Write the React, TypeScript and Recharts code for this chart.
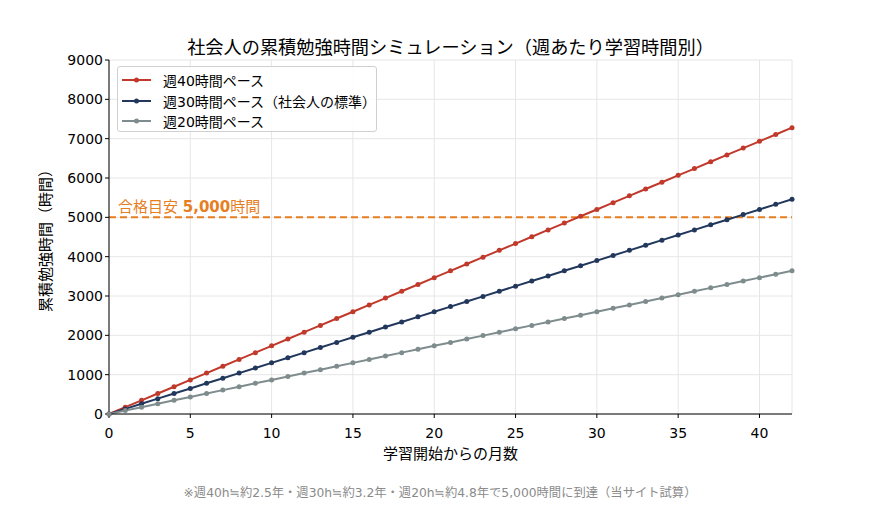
import {
  CartesianGrid,
  Line,
  LineChart,
  ReferenceLine,
  XAxis,
  YAxis,
} from "recharts";

// months since start
const months = Array.from({ length: 43 }, (_, i) => i);

// cumulative study hours per pace
const pace40 = [
  0, 173, 347, 520, 693, 867, 1040, 1213, 1387, 1560, 1733, 1907, 2080, 2253,
  2427, 2600, 2773, 2947, 3120, 3293, 3467, 3640, 3813, 3987, 4160, 4333, 4507,
  4680, 4853, 5027, 5200, 5373, 5547, 5720, 5893, 6067, 6240, 6413, 6587, 6760,
  6933, 7107, 7280,
];
const pace30 = [
  0, 130, 260, 390, 520, 650, 780, 910, 1040, 1170, 1300, 1430, 1560, 1690,
  1820, 1950, 2080, 2210, 2340, 2470, 2600, 2730, 2860, 2990, 3120, 3250, 3380,
  3510, 3640, 3770, 3900, 4030, 4160, 4290, 4420, 4550, 4680, 4810, 4940, 5070,
  5200, 5330, 5460,
];
const pace20 = [
  0, 87, 173, 260, 347, 433, 520, 607, 693, 780, 867, 953, 1040, 1127, 1213,
  1300, 1387, 1473, 1560, 1647, 1733, 1820, 1907, 1993, 2080, 2167, 2253, 2340,
  2427, 2513, 2600, 2687, 2773, 2860, 2947, 3033, 3120, 3207, 3293, 3380, 3467,
  3553, 3640,
];

const xTicks = [0, 5, 10, 15, 20, 25, 30, 35, 40];
const yTicks = [0, 1000, 2000, 3000, 4000, 5000, 6000, 7000, 8000, 9000];
const target = 5000;

const series = [
  { key: "p40", name: "週40時間ペース", color: "#c0392b" },
  { key: "p30", name: "週30時間ペース（社会人の標準）", color: "#22375c" },
  { key: "p20", name: "週20時間ペース", color: "#7f8c8d" },
];

const data = months.map((m, i) => ({
  month: m,
  p40: pace40[i],
  p30: pace30[i],
  p20: pace20[i],
}));

const FONT = '"DejaVu Sans", "Noto Sans CJK JP", sans-serif';
const ORANGE = "#e67e22";

const TargetLabel = ({ viewBox }: any) => (
  <text
    x={viewBox.x + 9}
    y={viewBox.y - 5}
    fill={ORANGE}
    fontSize={15}
    fontFamily={FONT}
  >
    合格目安 <tspan fontWeight="bold">5,000</tspan>時間
  </text>
);

export default function App() {
  return (
    <div
      style={{
        position: "absolute",
        left: 0,
        top: 0,
        width: 880,
        height: 505,
        background: "#fff",
        fontFamily: FONT,
      }}
    >
      <div
        style={{
          position: "absolute",
          top: 33,
          left: 109,
          width: 683,
          textAlign: "center",
          fontSize: 18.2,
          color: "#000",
        }}
      >
        社会人の累積勉強時間シミュレーション（週あたり学習時間別）
      </div>
      <LineChart
        width={880}
        height={505}
        data={data}
        margin={{ top: 60, right: 88, left: 59, bottom: 59 }}
      >
        <CartesianGrid stroke="#e6e6e6" strokeWidth={1} />
        <XAxis
          dataKey="month"
          type="number"
          domain={[0, 42]}
          ticks={xTicks}
          height={32}
          stroke="#000"
          tickSize={4}
          tick={{ fill: "#000", fontSize: 14, fontFamily: FONT, dy: 8 }}
          label={{
            value: "学習開始からの月数",
            position: "insideBottom",
            offset: -13,
            fill: "#000",
            fontSize: 15,
            fontFamily: FONT,
          }}
        />
        <XAxis
          xAxisId="top"
          orientation="top"
          dataKey="month"
          type="number"
          domain={[0, 42]}
          height={0}
          tick={false}
          tickLine={false}
          stroke="#000"
        />
        <YAxis
          type="number"
          domain={[0, 9000]}
          ticks={yTicks}
          width={50}
          stroke="#000"
          tickSize={4}
          tick={{ fill: "#000", fontSize: 14, fontFamily: FONT }}
          label={{
            value: "累積勉強時間（時間）",
            angle: -90,
            position: "insideLeft",
            offset: -13,
            style: { textAnchor: "middle" },
            fill: "#000",
            fontSize: 15,
            fontFamily: FONT,
          }}
        />
        <YAxis
          yAxisId="right"
          orientation="right"
          domain={[0, 9000]}
          width={0}
          tick={false}
          tickLine={false}
          stroke="#000"
        />
        <ReferenceLine
          y={target}
          stroke={ORANGE}
          strokeWidth={2}
          strokeDasharray="7 4"
          label={<TargetLabel />}
        />
        {series.map((s) => (
          <Line
            key={s.key}
            dataKey={s.key}
            name={s.name}
            stroke={s.color}
            strokeWidth={2}
            dot={{ r: 2.5, fill: s.color, stroke: s.color, strokeWidth: 0 }}
            isAnimationActive={false}
          />
        ))}
      </LineChart>
      <div
        style={{
          position: "absolute",
          left: 117,
          top: 66,
          width: 260,
          height: 66,
          border: "1px solid #d0d0d0",
          borderRadius: 3,
          background: "rgba(255,255,255,0.85)",
          fontSize: 14,
          color: "#000",
          padding: "3px 0 0 4px",
          boxSizing: "border-box",
        }}
      >
        {series.map((s) => (
          <div
            key={s.key}
            style={{ display: "flex", alignItems: "center", height: 20.5 }}
          >
            <svg width={29} height={10} style={{ marginRight: 12 }}>
              <line x1={0} y1={5} x2={29} y2={5} stroke={s.color} strokeWidth={2} />
              <circle cx={14.5} cy={5} r={2.5} fill={s.color} />
            </svg>
            <span>{s.name}</span>
          </div>
        ))}
      </div>
      <div
        style={{
          position: "absolute",
          top: 483,
          left: 0,
          width: 880,
          textAlign: "center",
          fontSize: 12.3,
          color: "#8a8a8a",
        }}
      >
        ※週40h≒約2.5年・週30h≒約3.2年・週20h≒約4.8年で5,000時間に到達（当サイト試算）
      </div>
    </div>
  );
}
